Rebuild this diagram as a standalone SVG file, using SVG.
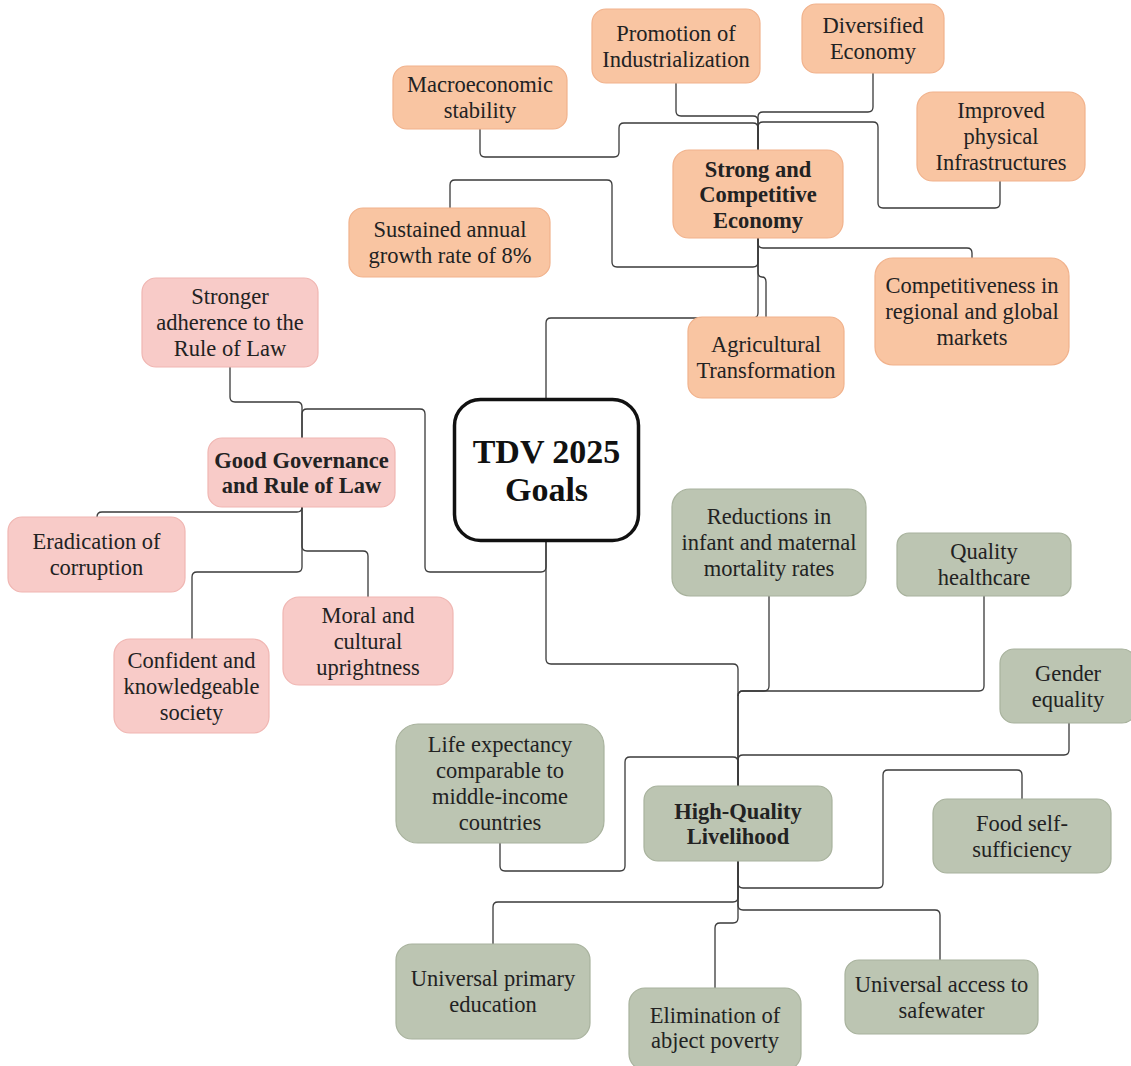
<svg xmlns="http://www.w3.org/2000/svg" width="1131" height="1066" viewBox="0 0 1131 1066">
<style>
.t{font-family:"Liberation Serif","Times New Roman",serif;font-size:22.5px;fill:#222;text-anchor:middle}
.b{font-weight:bold}
.c{font-size:34px;font-weight:bold;fill:#111}
.o{fill:#F9C5A2;stroke:#F1B28C;stroke-width:1.2}
.p{fill:#F8CBC8;stroke:#F0B6B2;stroke-width:1.2}
.g{fill:#BCC5B2;stroke:#A8B29D;stroke-width:1.2}
.k{fill:none;stroke:#3a3a3a;stroke-width:1.3}
</style>
<rect width="1131" height="1066" fill="#fff"/>
<g id="connectors" class="k">
<path d="M676,83 V111 Q676,116 681,116 H753 Q758,116 758,121 V150"/>
<path d="M873,73 V107 Q873,112 868,112 H763 Q758,112 758,117 V150"/>
<path d="M480,129 V152 Q480,157 485,157 H614 Q619,157 619,152 V128 Q619,123 624,123 H753 Q758,123 758,128 V150"/>
<path d="M1000,181 V203 Q1000,208 995,208 H883 Q878,208 878,203 V127 Q878,122 873,122 H763 Q758,122 758,127 V150"/>
<path d="M450,208 V185 Q450,180 455,180 H607 Q612,180 612,185 V262 Q612,267 617,267 H753 Q758,267 758,262 V238"/>
<path d="M758,238 V243 Q758,248 763,248 H967 Q972,248 972,253 V258"/>
<path d="M758,238 V272 Q758,277 762,277 Q766,277 766,282 V317"/>
<path d="M546,398 V323 Q546,318 551,318 H753 Q758,318 758,313 V238"/>
<path d="M546,542 V567 Q546,572 541,572 H430 Q425,572 425,567 V414 Q425,409 420,409 H307 Q302,409 302,414 V438"/>
<path d="M230,367 V397 Q230,402 235,402 H297 Q302,402 302,407 V438"/>
<path d="M302,507 Q302,512 297,512 H102 Q97,512 97,517"/>
<path d="M302,507 V546 Q302,551 307,551 H363 Q368,551 368,556 V597"/>
<path d="M302,507 V567 Q302,572 297,572 H197 Q192,572 192,577 V639"/>
<path d="M546,542 V659 Q546,664 551,664 H733 Q738,664 738,669 V786"/>
<path d="M769,596 V686 Q769,691 764,691 H743 Q738,691 738,696 V786"/>
<path d="M984,596 V686 Q984,691 979,691 H743 Q738,691 738,696"/>
<path d="M1069,723 V750 Q1069,755 1064,755 H743 Q738,755 738,760 V786"/>
<path d="M500,843 V866 Q500,871 505,871 H620 Q625,871 625,866 V762 Q625,757 630,757 H733 Q738,757 738,762 V786"/>
<path d="M1022,799 V775 Q1022,770 1017,770 H888 Q883,770 883,775 V883 Q883,888 878,888 H743 Q738,888 738,883 V861"/>
<path d="M738,861 V897 Q738,902 733,902 H498 Q493,902 493,907 V944"/>
<path d="M738,861 V905 Q738,910 743,910 H935 Q940,910 940,915 V960"/>
<path d="M738,861 V918 Q738,923 733,923 H720 Q715,923 715,928 V988"/>
</g>
<g id="macro"><rect class="o" x="393" y="66" width="174" height="63" rx="14"/><text class="t" x="480" y="92">Macroeconomic</text><text class="t" x="480" y="118">stability</text></g>
<g id="promotion"><rect class="o" x="592" y="9" width="168" height="74" rx="14"/><text class="t" x="676" y="40.5">Promotion of</text><text class="t" x="676" y="66.5">Industrialization</text></g>
<g id="diversified"><rect class="o" x="802" y="4" width="142" height="69" rx="14"/><text class="t" x="873" y="33">Diversified</text><text class="t" x="873" y="59">Economy</text></g>
<g id="improved"><rect class="o" x="917" y="92" width="168" height="89" rx="16"/><text class="t" x="1001" y="118">Improved</text><text class="t" x="1001" y="144">physical</text><text class="t" x="1001" y="170">Infrastructures</text></g>
<g id="strong"><rect class="o" x="673" y="150" width="170" height="88" rx="16"/><text class="t b" x="758" y="176.5">Strong and</text><text class="t b" x="758" y="202">Competitive</text><text class="t b" x="758" y="227.5">Economy</text></g>
<g id="sustained"><rect class="o" x="349" y="208" width="201" height="69" rx="14"/><text class="t" x="450" y="237">Sustained annual</text><text class="t" x="450" y="263">growth rate of 8%</text></g>
<g id="competitiveness"><rect class="o" x="875" y="258" width="194" height="107" rx="18"/><text class="t" x="972" y="293">Competitiveness in</text><text class="t" x="972" y="319">regional and global</text><text class="t" x="972" y="345">markets</text></g>
<g id="agricultural"><rect class="o" x="688" y="317" width="156" height="81" rx="14"/><text class="t" x="766" y="352">Agricultural</text><text class="t" x="766" y="378">Transformation</text></g>
<g id="stronger"><rect class="p" x="142" y="278" width="176" height="89" rx="14"/><text class="t" x="230" y="304">Stronger</text><text class="t" x="230" y="330">adherence to the</text><text class="t" x="230" y="356">Rule of Law</text></g>
<g id="governance"><rect class="p" x="208" y="438" width="187" height="69" rx="14"/><text class="t b" x="301.5" y="467.5">Good Governance</text><text class="t b" x="301.5" y="492.5">and Rule of Law</text></g>
<g id="eradication"><rect class="p" x="8" y="517" width="177" height="75" rx="14"/><text class="t" x="96.5" y="549">Eradication of</text><text class="t" x="96.5" y="575">corruption</text></g>
<g id="confident"><rect class="p" x="114" y="639" width="155" height="94" rx="16"/><text class="t" x="191.5" y="667.5">Confident and</text><text class="t" x="191.5" y="693.5">knowledgeable</text><text class="t" x="191.5" y="719.5">society</text></g>
<g id="moral"><rect class="p" x="283" y="597" width="170" height="88" rx="16"/><text class="t" x="368" y="622.5">Moral and</text><text class="t" x="368" y="648.5">cultural</text><text class="t" x="368" y="674.5">uprightness</text></g>
<g id="center"><rect x="454.5" y="399.5" width="184" height="141" rx="26" fill="#fff" stroke="#111" stroke-width="3.5"/><text class="t c" x="546.5" y="463">TDV 2025</text><text class="t c" x="546.5" y="501">Goals</text></g>
<g id="reductions"><rect class="g" x="672" y="489" width="194" height="107" rx="18"/><text class="t" x="769" y="524">Reductions in</text><text class="t" x="769" y="550">infant and maternal</text><text class="t" x="769" y="576">mortality rates</text></g>
<g id="quality"><rect class="g" x="897" y="533" width="174" height="63" rx="12"/><text class="t" x="984" y="559">Quality</text><text class="t" x="984" y="585">healthcare</text></g>
<g id="gender"><rect class="g" x="1000" y="649" width="136" height="74" rx="14"/><text class="t" x="1068" y="680.5">Gender</text><text class="t" x="1068" y="706.5">equality</text></g>
<g id="life"><rect class="g" x="396" y="724" width="208" height="119" rx="22"/><text class="t" x="500" y="752">Life expectancy</text><text class="t" x="500" y="778">comparable to</text><text class="t" x="500" y="804">middle-income</text><text class="t" x="500" y="830">countries</text></g>
<g id="livelihood"><rect class="g" x="644" y="786" width="188" height="75" rx="14"/><text class="t b" x="738" y="818.5">High-Quality</text><text class="t b" x="738" y="843.5">Livelihood</text></g>
<g id="food"><rect class="g" x="933" y="799" width="178" height="74" rx="14"/><text class="t" x="1022" y="830.5">Food self-</text><text class="t" x="1022" y="856.5">sufficiency</text></g>
<g id="primary"><rect class="g" x="396" y="944" width="194" height="95" rx="16"/><text class="t" x="493" y="986">Universal primary</text><text class="t" x="493" y="1012">education</text></g>
<g id="poverty"><rect class="g" x="629" y="988" width="172" height="82" rx="16"/><text class="t" x="715" y="1023">Elimination of</text><text class="t" x="715" y="1048">abject poverty</text></g>
<g id="safewater"><rect class="g" x="845" y="960" width="193" height="74" rx="14"/><text class="t" x="941.5" y="991.5">Universal access to</text><text class="t" x="941.5" y="1017.5">safewater</text></g>
</svg>
